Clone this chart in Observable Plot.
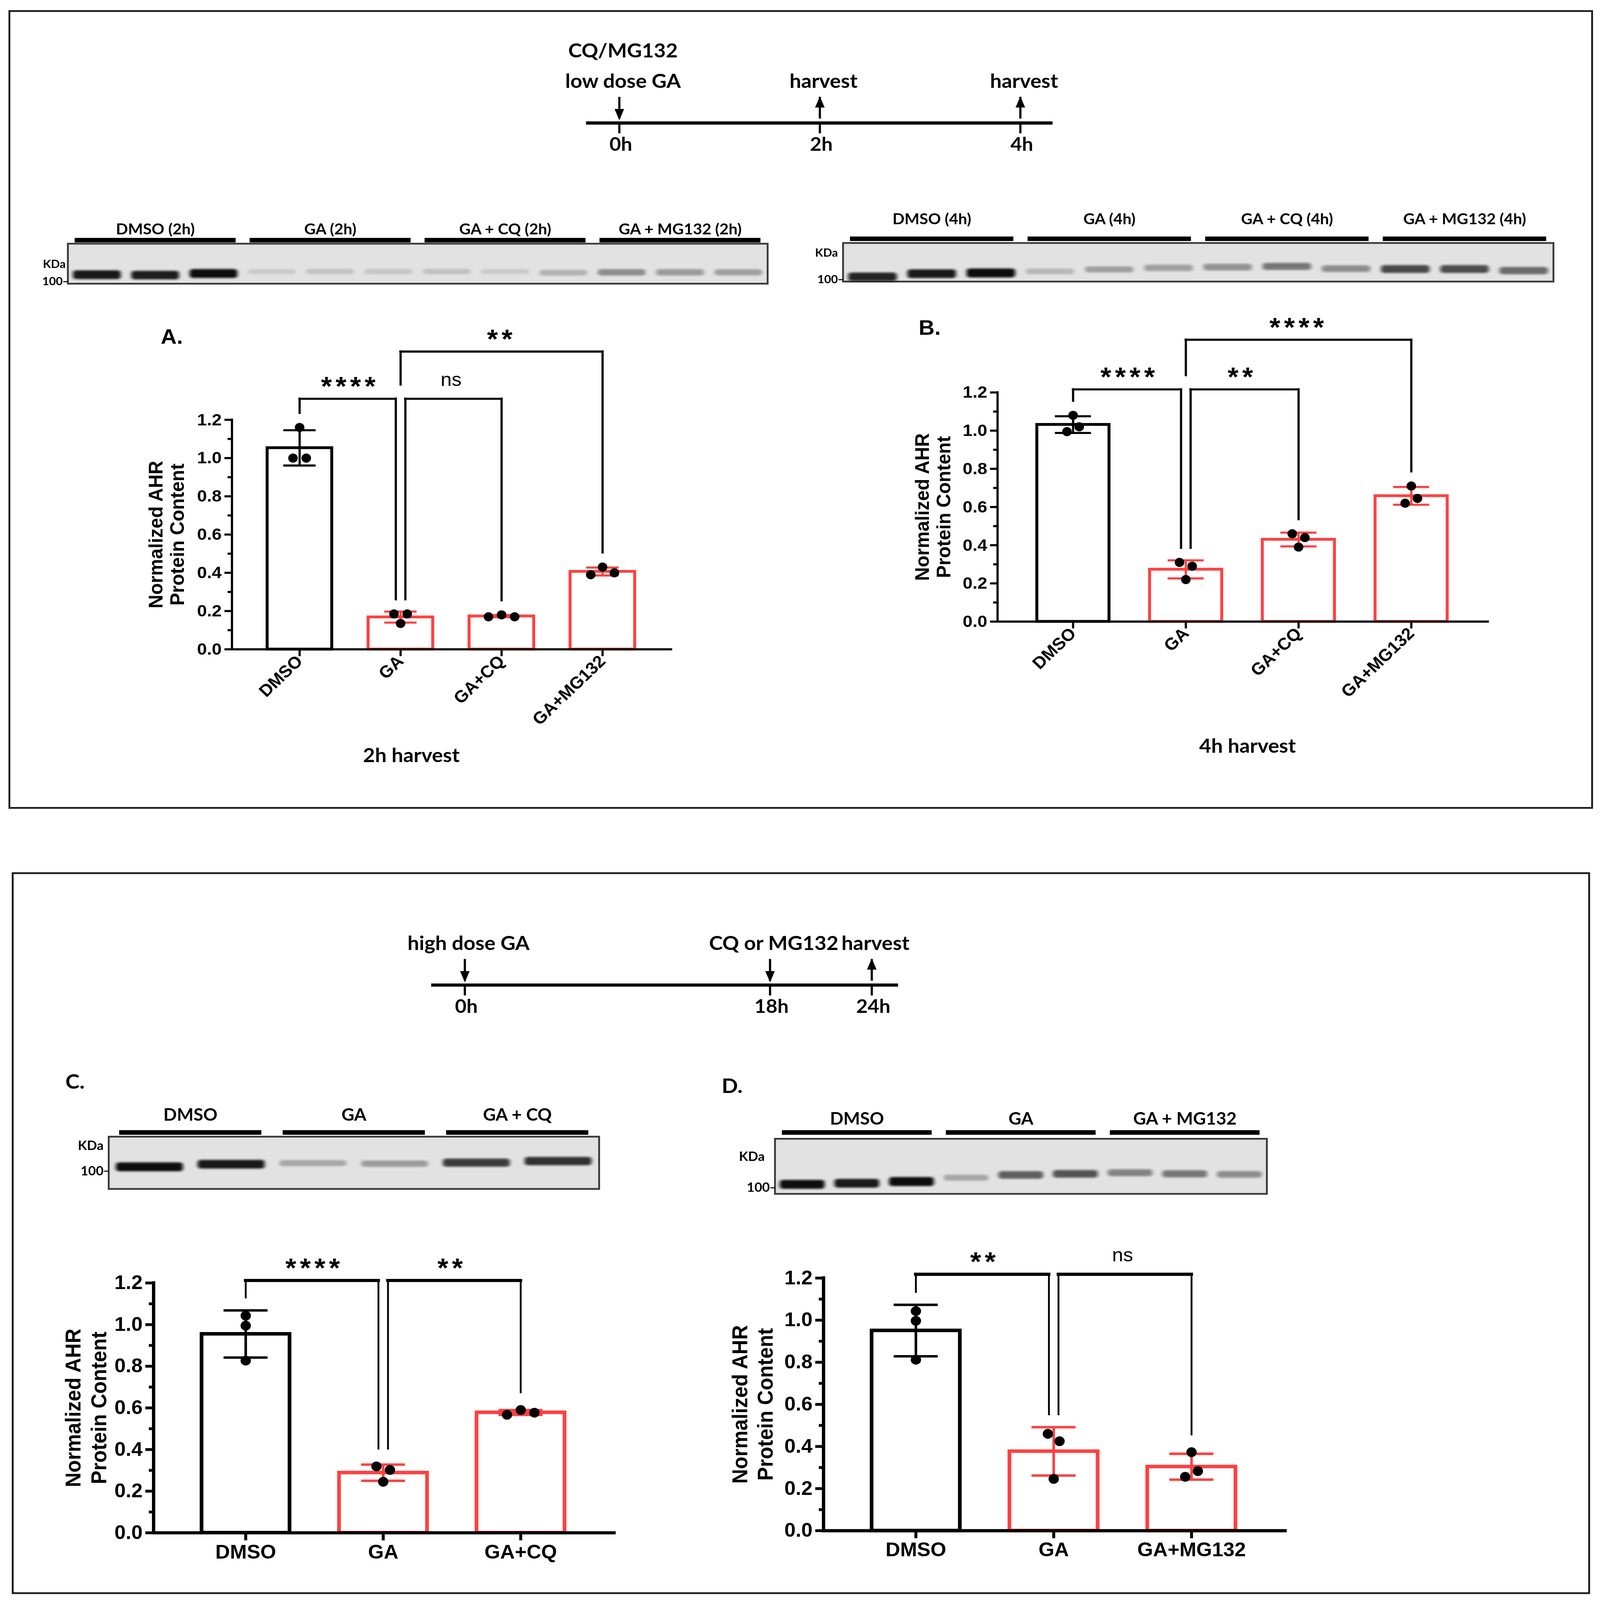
<!DOCTYPE html>
<html>
<head>
<meta charset="utf-8">
<script src="https://cdn.jsdelivr.net/npm/d3@7"></script>
<script src="https://cdn.jsdelivr.net/npm/@observablehq/plot@0.6"></script>
<style>
html, body { margin: 0; padding: 0; background: #fff; overflow: hidden; }
#root { position: relative; width: 4349px; height: 4560px; background: #fff; overflow: hidden; transform-origin: 0 0; }
.abs { position: absolute; }
.box { position: absolute; border: 5px solid #1a1a1a; box-sizing: border-box; }
.lbl { position: absolute; transform: translate(-50%, -50%); white-space: nowrap; color: #000; line-height: 1; }
.cal { font-family: Lato, "Open Sans", sans-serif; font-weight: 700; }
.ari { font-family: "Liberation Sans", Arial, sans-serif; font-weight: 700; }
.w6 [aria-label$="-axis tick"], .w6 .tick line { stroke-width: 6px; }
.w8 [aria-label$="-axis tick"], .w8 .tick line { stroke-width: 8px; }
</style>
</head>
<body>
<div id="root"></div>
<script>
// ===================== DATA =====================
const yTicks = [0, 0.2, 0.4, 0.6, 0.8, 1.0, 1.2];
const yMinorTicks = [0.1, 0.3, 0.5, 0.7, 0.9, 1.1];
const yLabel = "Normalized AHR\nProtein Content";

// Panel A – low dose GA, 2 h harvest (three replicates per group)
const catsA = ["DMSO", "GA", "GA+CQ", "GA+MG132"];
const repsA = [[1.16, 1.00, 1.00], [0.185, 0.135, 0.185], [0.17, 0.18, 0.17], [0.39, 0.43, 0.40]];
const compsA = [{from: 0, to: 1, label: "****"}, {from: 1, to: 2, label: "ns"}, {from: 1, to: 3, label: "**"}];
const titleA = "2h harvest";

// Panel B – low dose GA, 4 h harvest
const catsB = ["DMSO", "GA", "GA+CQ", "GA+MG132"];
const repsB = [[1.08, 0.995, 1.02], [0.31, 0.29, 0.22], [0.46, 0.39, 0.44], [0.71, 0.62, 0.645]];
const compsB = [{from: 0, to: 1, label: "****"}, {from: 1, to: 2, label: "**"}, {from: 1, to: 3, label: "****"}];
const titleB = "4h harvest";

// Panel C – high dose GA + CQ
const catsC = ["DMSO", "GA", "GA+CQ"];
const repsC = [[1.043, 0.995, 0.827], [0.319, 0.302, 0.245], [0.567, 0.59, 0.577]];
const compsC = [{from: 0, to: 1, label: "****"}, {from: 1, to: 2, label: "**"}];

// Panel D – high dose GA + MG132
const catsD = ["DMSO", "GA", "GA+MG132"];
const repsD = [[1.043, 0.997, 0.812], [0.46, 0.425, 0.246], [0.373, 0.256, 0.283]];
const compsD = [{from: 0, to: 1, label: "**"}, {from: 1, to: 2, label: "ns"}];

// Western blots: lane groups, band intensity (0–1) and relative migration (Rf, 0 = bottom of membrane)
const blotGroupsA = ["DMSO (2h)", "GA (2h)", "GA + CQ (2h)", "GA + MG132 (2h)"];
const blotBandA = [0.9, 0.88, 0.95, 0.1, 0.13, 0.12, 0.14, 0.1, 0.2, 0.36, 0.34, 0.28];
const blotRfA = [0.22, 0.21, 0.25, 0.3, 0.3, 0.3, 0.3, 0.3, 0.27, 0.28, 0.28, 0.28];

const blotGroupsB = ["DMSO (4h)", "GA (4h)", "GA + CQ (4h)", "GA + MG132 (4h)"];
const blotBandB = [0.85, 0.9, 0.97, 0.18, 0.28, 0.32, 0.38, 0.5, 0.4, 0.7, 0.68, 0.55];
const blotRfB = [0.12, 0.2, 0.22, 0.26, 0.31, 0.35, 0.37, 0.39, 0.33, 0.32, 0.32, 0.28];

const blotGroupsC = ["DMSO", "GA", "GA + CQ"];
const blotBandC = [0.95, 0.9, 0.25, 0.3, 0.75, 0.8];
const blotRfC = [0.42, 0.47, 0.49, 0.48, 0.5, 0.53];

const blotGroupsD = ["DMSO", "GA", "GA + MG132"];
const blotBandD = [0.95, 0.9, 0.97, 0.25, 0.6, 0.65, 0.45, 0.5, 0.4];
const blotRfD = [0.17, 0.19, 0.22, 0.29, 0.34, 0.36, 0.38, 0.36, 0.35];

// Treatment timelines
const lowDoseTicks = [0, 2, 4];
const lowDoseEvents = [
  {h: 0, label: "CQ/MG132\nlow dose GA", dir: "down"},
  {h: 2, label: "harvest", dir: "up"},
  {h: 4, label: "harvest", dir: "up"}
];
const highDoseTicks = [0, 18, 24];
const highDoseEvents = [
  {h: 0, label: "high dose GA", dir: "down"},
  {h: 18, label: "CQ or MG132", dir: "down"},
  {h: 24, label: "harvest", dir: "up"}
];

// ===================== HELPERS =====================
const PAGE_W = 4349, PAGE_H = 4560;
const RED = "#ff4040";
const root = document.getElementById("root");
{
  // the browser viewport may be smaller than the page: fit the whole figure into it
  const sx = Math.min(1, window.innerWidth / PAGE_W), sy = Math.min(1, window.innerHeight / PAGE_H);
  if (sx < 1 || sy < 1) root.style.transform = `scale(${sx}, ${sy})`;
}

function place(node, left, top, cls) {
  const wrap = document.createElement("div");
  wrap.className = "abs " + (cls || "");
  wrap.style.left = left + "px";
  wrap.style.top = top + "px";
  wrap.appendChild(node);
  root.appendChild(wrap);
}
function htmlLabel(text, x, y, cls, size) {
  const d = document.createElement("div");
  d.className = "lbl " + cls;
  d.textContent = text;
  d.style.left = x + "px";
  d.style.top = y + "px";
  d.style.fontSize = size + "px";
  root.appendChild(d);
}
function box(x0, y0, x1, y1) {
  const d = document.createElement("div");
  d.className = "box";
  d.style.left = x0 + "px"; d.style.top = y0 + "px";
  d.style.width = (x1 - x0) + "px"; d.style.height = (y1 - y0) + "px";
  root.appendChild(d);
}
const arrowDown = {draw(c) { c.moveTo(0, 0); c.lineTo(-13, -32); c.lineTo(13, -32); c.closePath(); }};
const arrowUp = {draw(c) { c.moveTo(0, 0); c.lineTo(-13, 32); c.lineTo(13, 32); c.closePath(); }};
function hTick(len) { return {draw(c) { c.moveTo(-len, 0); c.lineTo(0, 0); }}; }

// GraphPad-like scatter: replicates that collide vertically are spread sideways
function dotOffsets(vals, unitPx, stepPx, r) {
  const D = 2 * r + 10;
  const order = d3.range(vals.length).sort((a, b) => vals[a] - vals[b]);
  const clusters = [];
  let cur = [order[0]];
  for (let k = 1; k < order.length; k++) {
    if ((vals[order[k]] - vals[order[k - 1]]) * unitPx < 1.9 * r) cur.push(order[k]);
    else { clusters.push(cur); cur = [order[k]]; }
  }
  clusters.push(cur);
  const off = vals.map(() => 0);
  for (const c of clusters) {
    c.sort((a, b) => a - b);
    if (c.length < 2) continue;
    let s = 0;
    for (let k = 0; k < c.length - 1; k++) {
      const dy = Math.abs(vals[c[k]] - vals[c[k + 1]]) * unitPx;
      s = Math.max(s, Math.sqrt(Math.max(0, D * D - dy * dy)));
    }
    if (c.length === 2) s = s / 2;
    c.forEach((idx, k) => off[idx] = (c.length === 2 ? (k === 0 ? -s : s) : (k - (c.length - 1) / 2) * s));
  }
  return off.map(o => o / stepPx);
}

// ===================== TIMELINE =====================
function timeline({events, ticks, domain, lineX0, lineX1, lineY, labelLift}) {
  const mL = 260, mR = 220;
  const svg = Plot.plot({
    width: mL + (lineX1 - lineX0) + mR, height: 360,
    marginLeft: mL, marginRight: mR, marginTop: 0, marginBottom: 0,
    x: {domain, axis: null},
    y: {domain: [-120, 240], axis: null},
    style: "background: transparent; overflow: visible; max-width: none; font-family: Lato, 'Open Sans', sans-serif; font-weight: bold; font-size: 56px; color: black;",
    marks: [
      Plot.ruleY([0], {strokeWidth: 9}),
      Plot.ruleX(ticks, {x: d => d, y1: 0, y2: -30, strokeWidth: 6}),
      Plot.text(ticks, {x: d => d, y: -62, text: d => d + "h", fontSize: 54, dx: 4}),
      Plot.ruleX(events, {x: "h", y1: 12, y2: 74, strokeWidth: 6}),
      Plot.dot(events.filter(e => e.dir === "down"), {x: "h", y: 8, symbol: arrowDown, fill: "black", stroke: "none"}),
      Plot.dot(events.filter(e => e.dir === "up"), {x: "h", y: 76, symbol: arrowUp, fill: "black", stroke: "none"}),
      Plot.text(events, {x: "h", y: labelLift, text: "label", lineAnchor: "bottom", lineHeight: 1.55, dx: 10})
    ]
  });
  place(svg, lineX0 - mL, lineY - 240);
}

// ===================== BLOT =====================
function blot({groups, bands, rf, x0, x1, y0, y1, headerPx, barPx, headerSize, kda, k100, kdaDx, kdaSize, inset}) {
  const n = bands.length, per = n / groups.length;
  const w = x1 - x0, h = y1 - y0, pitch = w / n;
  const mL = 130, mR = 30, mT = 130, mB = 40;
  const lanes = bands.map((v, i) => ({i, v, rf: rf[i], bh: (7 + 6 * v) / h}));
  const grp = groups.map((g, j) => ({g, a: j * per, b: j * per + per - 1}));
  const svg = Plot.plot({
    width: mL + w + mR, height: mT + h + mB,
    marginLeft: mL, marginRight: mR, marginTop: mT, marginBottom: mB,
    x: {domain: [-0.5, n - 0.5], axis: null},
    y: {domain: [0, 1], axis: null},
    style: "background: transparent; overflow: visible; max-width: none; font-family: Lato, 'Open Sans', sans-serif; font-weight: bold; color: black;",
    marks: [
      Plot.frame({fill: "#e2e2e2", stroke: "#3a3a3a", strokeWidth: 5}),
      Plot.rect(lanes, {x1: d => d.i - 0.41, x2: d => d.i + 0.41, y1: d => d.rf - d.bh, y2: d => d.rf + d.bh,
                        fill: "#111111", fillOpacity: d => Math.min(1, d.v * 1.05), rx: 8}),
      Plot.ruleY(grp, {y: 1 + barPx / h, x1: d => d.a - inset, x2: d => d.b + inset, strokeWidth: 13}),
      Plot.text(grp, {x: d => (d.a + d.b) / 2, y: 1 + headerPx / h, text: "g", fontSize: headerSize}),
      Plot.text(["KDa"], {x: -0.5, y: kda, dx: -kdaDx, text: d => d, textAnchor: "end", fontSize: kdaSize}),
      Plot.text(["100"], {x: -0.5, y: k100, dx: -14, text: d => d, textAnchor: "end", fontSize: kdaSize}),
      Plot.ruleY([k100], {x1: -0.5 - 12 / pitch, x2: -0.5, strokeWidth: 3})
    ]
  });
  const id = "blur" + Math.round(x0);
  const s = d3.select(svg);
  s.append("defs").append("filter").attr("id", id).attr("x", "-30%").attr("y", "-100%").attr("width", "160%").attr("height", "300%")
    .append("feGaussianBlur").attr("stdDeviation", "5 3");
  s.selectAll("g").filter(function () { return this.getAttribute("fill") === "#111111"; }).attr("filter", `url(#${id})`);
  place(svg, x0 - mL, y0 - mT);
}

// ===================== BAR CHART =====================
function barChart(o) {
  const {cats, reps, comps, levels, fx0, fx1, fy0, fy1, mT, mB, rotate, r, gap, barW, ebW, axW, tickW, legW, topW,
         xTick, yTick, minor, fontSize, yDx, ySize, yLH, cls} = o;
  const n = cats.length;
  const xDom = [-0.67, n - 1 + 0.68];
  const stepPx = (fx1 - fx0) / (xDom[1] - xDom[0]);
  const unitPx = (fy0 - fy1) / 1.2;
  const mL = 320, mR = 60;
  const groups = reps.map((vals, i) => {
    const mean = d3.mean(vals), sd = d3.deviation(vals);
    return {i, mean, lo: mean - sd, hi: mean + sd, color: i === 0 ? "black" : RED,
            top: Math.max(mean + sd, d3.max(vals) + r / unitPx)};
  });
  const pts = reps.flatMap((vals, i) => {
    const off = dotOffsets(vals, unitPx, stepPx, r);
    return vals.map((v, k) => ({i, v, x: i + off[k]}));
  });
  const caps = groups.flatMap(g => [{...g, y: g.lo}, {...g, y: g.hi}]);
  // significance brackets
  const row = c => c.to - c.from - 1;
  const row0 = comps.filter(c => row(c) === 0);
  const delta = 13 / stepPx;
  const segs = [], legs = [];
  comps.forEach(c => {
    const rw = row(c), L = levels[rw];
    let xa = c.from, xb = c.to;
    if (rw === 0) {
      if (row0.some(q => q !== c && q.to === c.from)) xa += delta;
      if (row0.some(q => q !== c && q.from === c.to)) xb -= delta;
    }
    const bottom = cat => {
      if (rw > 0 && comps.some(q => row(q) < rw && (q.from === cat || q.to === cat))) return levels[rw - 1] + 40 / unitPx;
      return groups[cat].top + gap / unitPx;
    };
    segs.push({x1: xa, x2: xb, y: L, label: c.label, xm: (c.from + c.to) / 2});
    legs.push({x: xa, y1: bottom(c.from), y2: L}, {x: xb, y1: bottom(c.to), y2: L});
  });
  const svg = Plot.plot({
    width: mL + (fx1 - fx0) + mR, height: mT + (fy0 - fy1) + mB,
    marginLeft: mL, marginRight: mR, marginTop: mT, marginBottom: mB,
    x: {domain: xDom, ticks: d3.range(n), tickFormat: i => cats[i], tickSize: xTick, tickPadding: rotate ? 6 : 12,
        tickRotate: rotate, label: null},
    y: {domain: [0, 1.2], ticks: yTicks, tickFormat: d3.format(".1f"), tickSize: yTick, tickPadding: 8, label: null},
    color: {type: "identity"},
    style: `background: transparent; overflow: visible; max-width: none; font-family: 'Liberation Sans', Arial, sans-serif; font-weight: bold; font-size: ${fontSize}px; color: black;`,
    marks: [
      Plot.rect(groups, {x1: d => d.i - 0.32, x2: d => d.i + 0.32, y1: 0, y2: "mean", fill: "white", stroke: "color", strokeWidth: barW}),
      Plot.ruleX(groups, {x: "i", y1: "lo", y2: "hi", stroke: "color", strokeWidth: ebW}),
      Plot.ruleY(caps, {y: "y", x1: d => d.i - 0.16, x2: d => d.i + 0.16, stroke: "color", strokeWidth: ebW}),
      Plot.dot(pts, {x: "x", y: "v", r, fill: "black", stroke: "none"}),
      Plot.ruleX([xDom[0]], {strokeWidth: axW, strokeLinecap: "square"}),
      Plot.ruleY([0], {strokeWidth: axW, strokeLinecap: "square"}),
      Plot.dot(yMinorTicks, {x: xDom[0], y: d => d, symbol: hTick(minor), stroke: "black", fill: "none", strokeWidth: tickW}),
      Plot.ruleX(legs, {x: "x", y1: "y1", y2: "y2", strokeWidth: legW, strokeLinecap: "square"}),
      Plot.ruleY(segs, {y: "y", x1: "x1", x2: "x2", strokeWidth: topW, strokeLinecap: "square"}),
      Plot.text(segs.filter(s => s.label.includes("*")), {x: "xm", y: "y", text: "label", dy: -34, fontSize: 76, fontWeight: "bold"}),
      Plot.text(segs.filter(s => !s.label.includes("*")), {x: "xm", y: "y", text: "label", dy: -54, fontSize: 54, fontWeight: "normal"}),
      Plot.text([yLabel], {frameAnchor: "left", dx: -yDx, rotate: -90, text: d => d, textAnchor: "middle", lineAnchor: "middle",
                           fontSize: ySize, fontWeight: "bold", lineHeight: yLH})
    ]
  });
  d3.select(svg).selectAll("text").filter(function () { return /^\*+$/.test(this.textContent); }).attr("letter-spacing", "10px");
  place(svg, fx0 - mL, fy1 - mT, cls);
}

// ===================== LAYOUT =====================
box(23, 29, 4330, 2305);
box(32, 2486, 4322, 4543);

timeline({events: lowDoseEvents, ticks: lowDoseTicks, domain: [-0.33, 4.323], lineX0: 1593, lineX1: 2861, lineY: 350, labelLift: 100});
timeline({events: highDoseEvents, ticks: highDoseTicks, domain: [-1.975, 25.56], lineX0: 1172, lineX1: 2441, lineY: 2807, labelLift: 100});

blot({groups: blotGroupsA, bands: blotBandA, rf: blotRfA, x0: 184, x1: 2086, y0: 694, y1: 808,
      headerPx: 40, barPx: 10, headerSize: 43, kda: 0.48, k100: 0.05, kdaDx: 6, kdaSize: 32, inset: 0.38});
blot({groups: blotGroupsB, bands: blotBandB, rf: blotRfB, x0: 2291, x1: 4222, y0: 692, y1: 802,
      headerPx: 67, barPx: 12, headerSize: 43, kda: 0.74, k100: 0.05, kdaDx: 14, kdaSize: 32, inset: 0.38});
blot({groups: blotGroupsC, bands: blotBandC, rf: blotRfC, x0: 295, x1: 1628, y0: 3239, y1: 3388,
      headerPx: 61, barPx: 12, headerSize: 48, kda: 0.82, k100: 0.34, kdaDx: 14, kdaSize: 36, inset: 0.37});
blot({groups: blotGroupsD, bands: blotBandD, rf: blotRfD, x0: 2106, x1: 3443, y0: 3245, y1: 3402,
      headerPx: 56, barPx: 18, headerSize: 48, kda: 0.67, k100: 0.11, kdaDx: 28, kdaSize: 36, inset: 0.37});

const thinStyle = {rotate: -45, mB: 280, r: 13, gap: 28, barW: 8, ebW: 6, axW: 6, tickW: 6, legW: 6, topW: 6,
                   xTick: 20, yTick: 20, minor: 12, fontSize: 48, ySize: 54, yLH: 1.08, cls: "w6"};
const boldStyle = {rotate: 0, mB: 130, r: 14, gap: 36, barW: 10, ebW: 7, axW: 9, tickW: 8, legW: 5, topW: 9,
                   xTick: 22, yTick: 22, minor: 13, fontSize: 55, ySize: 58, yLH: 1.2, cls: "w8"};

barChart({...thinStyle, cats: catsA, reps: repsA, comps: compsA, levels: [1.31, 1.557],
          fx0: 630, fx1: 1824, fy0: 1850, fy1: 1196, mT: 320, yDx: 178});
barChart({...thinStyle, cats: catsB, reps: repsB, comps: compsB, levels: [1.216, 1.476],
          fx0: 2711, fx1: 4044, fy0: 1771, fy1: 1118, mT: 320, yDx: 176});
barChart({...boldStyle, cats: catsC, reps: repsC, comps: compsC, levels: [1.212],
          fx0: 417, fx1: 1669, fy0: 4368, fy1: 3656, mT: 140, yDx: 186});
barChart({...boldStyle, cats: catsD, reps: repsD, comps: compsD, levels: [1.218],
          fx0: 2238, fx1: 3493, fy0: 4362, fy1: 3642, mT: 140, yDx: 195});

htmlLabel("A.", 467, 960, "ari", 60);
htmlLabel("B.", 2527, 934, "ari", 60);
htmlLabel("C.", 204, 3081, "cal", 58);
htmlLabel("D.", 1990, 3093, "cal", 58);
htmlLabel(titleA, 1118, 2151, "cal", 56);
htmlLabel(titleB, 3391, 2124, "cal", 56);
</script>
</body>
</html>
